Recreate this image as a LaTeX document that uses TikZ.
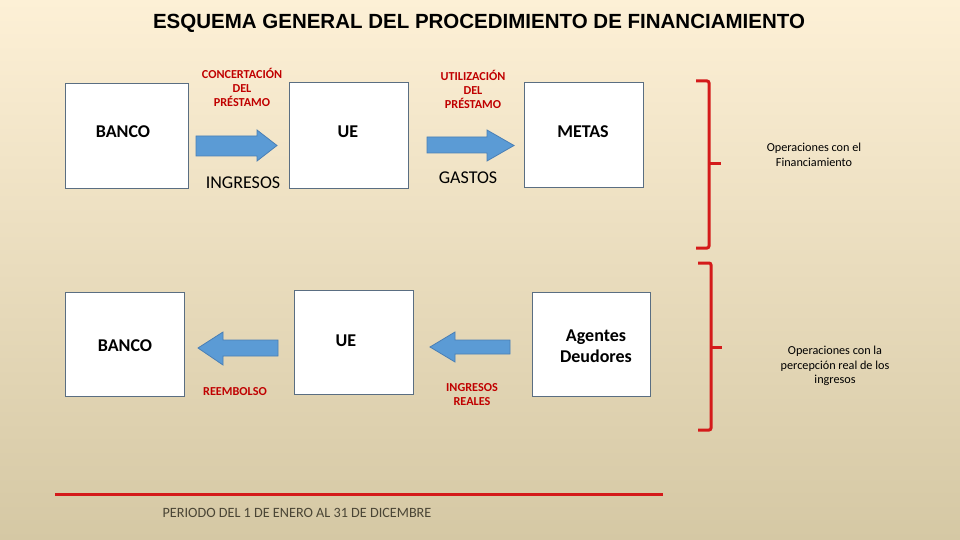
\documentclass[tikz,border=0pt]{standalone}
\usepackage{fontspec}
\setmainfont{Carlito}
\newfontfamily\titlefont{Liberation Sans}
\definecolor{bgtop}{HTML}{FDF0D6}
\definecolor{bgbot}{HTML}{D5C8A4}
\definecolor{boxline}{HTML}{5A6E82}
\definecolor{arrfill}{HTML}{5B9BD5}
\definecolor{arrline}{HTML}{4A7FB5}
\definecolor{lblred}{HTML}{C00000}
\definecolor{brred}{HTML}{D41A1A}
\definecolor{pergray}{HTML}{4A4535}
\begin{document}
\begin{tikzpicture}[x=1pt,y=-1pt,
  box/.style={draw=boxline, fill=white, line width=1pt, inner sep=0pt},
  boxtext/.style={font=\fontsize{18}{21}\selectfont\bfseries, align=center},
  flowtext/.style={font=\fontsize{18}{21}\selectfont},
  redlbl/.style={font=\fontsize{12.2}{14}\selectfont\bfseries, text=lblred, align=center},
  blockarrow/.style={fill=arrfill, draw=arrline, line width=0.8pt, line join=miter},
  bracket/.style={draw=brred, line width=3pt, rounded corners=2pt},
  brtext/.style={font=\fontsize{12.2}{14.5}\selectfont, align=center}]
\shade[top color=bgtop, bottom color=bgbot] (0,0) rectangle (960,540);
\useasboundingbox (0,0) rectangle (960,540);

\node[font=\titlefont\fontsize{20.5}{23}\selectfont\bfseries] (title) at (479,23) {ESQUEMA GENERAL DEL PROCEDIMIENTO DE FINANCIAMIENTO};

% top row boxes
\node[box, minimum width=123pt, minimum height=104pt] (banco1) at (126.5,136) {};
\node[box, minimum width=119pt, minimum height=105pt] (ue1) at (348.5,135.5) {};
\node[box, minimum width=119pt, minimum height=104pt] (metas) at (583.5,135) {};
\node[boxtext] (banco1t) at (123,132) {BANCO};
\node[boxtext] (ue1t) at (348,132) {UE};
\node[boxtext] (metast) at (583,132) {METAS};

% top arrows
\draw[blockarrow] (196,136) -- (257,136) -- (257,130) -- (277,145.5) -- (257,161) -- (257,156) -- (196,156) -- cycle;
\draw[blockarrow] (427,137) -- (487,137) -- (487,130) -- (514,145.5) -- (487,161) -- (487,153) -- (427,153) -- cycle;

\node[redlbl] (concert) at (242,87) {CONCERTACIÓN\\DEL\\PRÉSTAMO};
\node[redlbl] (utiliz) at (473,89) {UTILIZACIÓN\\DEL\\PRÉSTAMO};
\node[flowtext] (ingresos) at (243,183) {INGRESOS};
\node[flowtext] (gastos) at (468,178) {GASTOS};

% bottom row boxes
\node[box, minimum width=119pt, minimum height=104pt] (banco2) at (124.5,344) {};
\node[box, minimum width=119pt, minimum height=104pt] (ue2) at (353.5,342) {};
\node[box, minimum width=118pt, minimum height=104pt] (agentes) at (591,344) {};
\node[boxtext] (banco2t) at (125,346) {BANCO};
\node[boxtext] (ue2t) at (346,341) {UE};
\node[boxtext] (agentest) at (596,346.5) {Agentes\\Deudores};

% bottom arrows
\draw[blockarrow] (278,340) -- (223,340) -- (223,332) -- (198,348) -- (223,365) -- (223,356) -- (278,356) -- cycle;
\draw[blockarrow] (510,340) -- (455,340) -- (455,332) -- (430,347) -- (455,362) -- (455,354) -- (510,354) -- cycle;

\node[redlbl] (reembolso) at (235,392) {REEMBOLSO};
\node[redlbl] (ingreales) at (472,395) {INGRESOS\\REALES};

% brackets
\coordinate (b1top) at (696,81);
\coordinate (b1bot) at (696,248);
\coordinate (b1mid) at (709,164);
\coordinate (b1tick) at (721,164);
\draw[bracket] (b1top) -- (709,81) -- (709,248) -- (b1bot);
\draw[draw=brred, line width=3pt] (b1mid) -- (b1tick);
\node[brtext] (op1) at (814,155) {Operaciones con el\\Financiamiento};

\coordinate (b2top) at (698,263);
\coordinate (b2bot) at (698,430);
\coordinate (b2mid) at (711,347);
\coordinate (b2tick) at (722,347);
\draw[bracket] (b2top) -- (711,263) -- (711,430) -- (b2bot);
\draw[draw=brred, line width=3pt] (b2mid) -- (b2tick);
\node[brtext] (op2) at (835,366) {Operaciones con la\\percepción real de los\\ingresos};

% period line
\coordinate (pl) at (55,494);
\coordinate (pr) at (663,494);
\draw[draw=brred, line width=3pt] (pl) -- (pr);
\node[font=\fontsize{14.2}{17}\selectfont, text=pergray] (periodo) at (297,513) {PERIODO DEL 1 DE ENERO AL 31 DE DICEMBRE};
\end{tikzpicture}
\end{document}
